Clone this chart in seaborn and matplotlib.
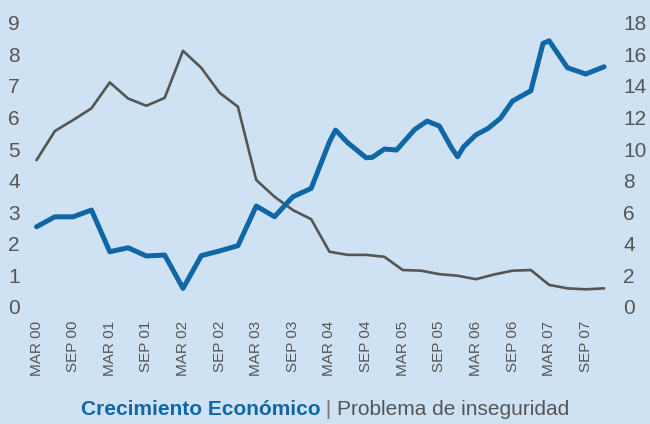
import pandas as pd
import numpy as np
import matplotlib.pyplot as plt
import seaborn as sns
from matplotlib.offsetbox import TextArea, HPacker, AnchoredOffsetbox

# x tick labels (every six months)
tick_labels = ["MAR 00", "SEP 00", "MAR 01", "SEP 01", "MAR 02", "SEP 02", "MAR 03", "SEP 03",
               "MAR 04", "SEP 04", "MAR 05", "SEP 05", "MAR 06", "SEP 06", "MAR 07", "SEP 07"]

# Problema de inseguridad (left axis)
inseg_dates = ["2000-03", "2000-06", "2000-09", "2000-12", "2001-03", "2001-06", "2001-09", "2001-12",
               "2002-03", "2002-06", "2002-09", "2002-12", "2003-03", "2003-06", "2003-09", "2003-12",
               "2004-03", "2004-06", "2004-09", "2004-12", "2005-03", "2005-06", "2005-09", "2005-12",
               "2006-03", "2006-06", "2006-09", "2006-12", "2007-03", "2007-06", "2007-09", "2007-12"]
inseg_values = [4.65, 5.57, 5.92, 6.29, 7.11, 6.60, 6.37, 6.62,
                8.11, 7.57, 6.78, 6.34, 4.02, 3.49, 3.07, 2.78,
                1.75, 1.65, 1.65, 1.59, 1.17, 1.15, 1.04, 0.99,
                0.88, 1.03, 1.15, 1.17, 0.70, 0.59, 0.56, 0.59]

# Crecimiento Economico (right axis)
crec_dates = ["2000-03", "2000-06", "2000-09", "2000-12", "2001-03", "2001-06", "2001-09", "2001-12",
              "2002-03", "2002-06", "2002-09", "2002-12", "2003-03", "2003-06", "2003-09", "2003-12",
              "2004-03", "2004-04", "2004-06", "2004-09", "2004-10", "2004-12", "2005-02", "2005-05",
              "2005-07", "2005-09", "2005-11", "2005-12", "2006-01", "2006-03", "2006-05", "2006-07",
              "2006-09", "2006-12", "2007-02", "2007-03", "2007-06", "2007-09", "2007-12"]
crec_values = [5.08, 5.71, 5.71, 6.14, 3.50, 3.75, 3.23, 3.29,
               1.18, 3.25, 3.55, 3.88, 6.39, 5.72, 6.98, 7.51,
               10.46, 11.20, 10.40, 9.45, 9.47, 10.00, 9.94, 11.25,
               11.77, 11.46, 10.08, 9.51, 10.15, 10.90, 11.31, 11.94,
               13.04, 13.69, 16.69, 16.85, 15.15, 14.75, 15.21]

def month_index(dates):
    p = pd.PeriodIndex(dates, freq="M")
    return np.asarray((p.year - 2000) * 12 + p.month - 3)

bg = "#cfe2f3"
blue = "#1067a6"
gray = "#555555"

sns.set_theme(style="white")
plt.rcParams['font.family'] = ['Liberation Sans', 'DejaVu Sans']

fig = plt.figure(figsize=(6.5, 4.24), dpi=100, facecolor=bg)
ax = fig.add_axes([28 / 650, 117 / 424, 584 / 650, 284.3 / 424])
ax.set_facecolor(bg)
ax2 = ax.twinx()
ax2.patch.set_alpha(0)

sns.lineplot(x=month_index(inseg_dates), y=inseg_values, ax=ax, color=gray, linewidth=1.9)
sns.lineplot(x=month_index(crec_dates), y=crec_values, ax=ax2, color=blue, linewidth=3.6)

ax.set_xlim(-1.4, 94.3)
ax.set_ylim(0, 9)
ax2.set_ylim(0, 18)
ax.set_yticks(range(0, 10))
ax2.set_yticks(range(0, 19, 2))
ax.set_xticks(np.arange(len(tick_labels)) * 6)
ax.set_xticklabels(tick_labels, rotation=90, fontsize=11, color=gray)
ax.set_xlabel("")
ax.set_ylabel("")
ax2.set_ylabel("")

for a in (ax, ax2):
    for s in a.spines.values():
        s.set_visible(False)
    a.tick_params(axis='both', length=0)
    a.grid(False)
ax.tick_params(axis='y', labelsize=15, labelcolor=gray, pad=6)
ax2.tick_params(axis='y', labelsize=15, labelcolor=gray, pad=8)
ax.tick_params(axis='x', pad=10)

# bottom legend-like caption
parts = [TextArea("Crecimiento Económico", textprops=dict(color=blue, fontsize=15, fontweight='bold')),
         TextArea(" | ", textprops=dict(color="#777777", fontsize=15)),
         TextArea("Problema de inseguridad", textprops=dict(color=gray, fontsize=15))]
box = HPacker(children=parts, align="baseline", pad=0, sep=0)
anchored = AnchoredOffsetbox(loc='center', child=box, frameon=False,
                             bbox_to_anchor=(0.5, 0.035), bbox_transform=fig.transFigure, borderpad=0)
fig.add_artist(anchored)

fig.savefig("out.png", dpi=100, facecolor=bg)
